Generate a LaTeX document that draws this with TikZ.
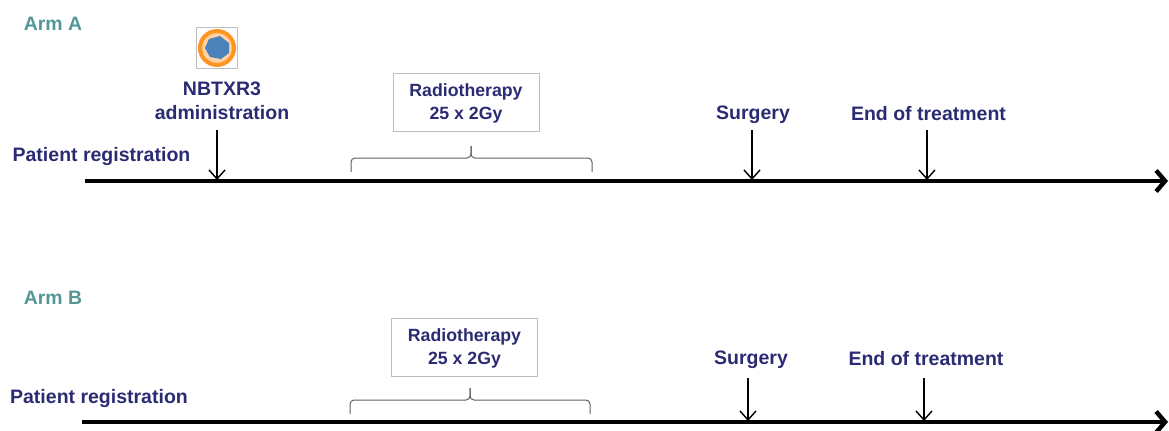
\documentclass[tikz,border=0pt]{standalone}
\usepackage{fontspec}
\setmainfont{Liberation Sans}
\usetikzlibrary{arrows.meta}
\definecolor{armteal}{RGB}{84,150,150}
\definecolor{labelblue}{RGB}{43,43,115}
\definecolor{boxgray}{RGB}{190,190,190}
\definecolor{bracegray}{RGB}{95,95,95}
\definecolor{coreblue}{RGB}{75,130,185}
\tikzset{
	armlabel/.style={text=armteal, font=\fontsize{9.7}{11}\selectfont\bfseries, inner sep=0pt},
	steplabel/.style={text=labelblue, font=\fontsize{9.75}{12}\selectfont\bfseries, align=center, inner sep=0pt, minimum height=17pt, text depth=0pt},
	rtbox/.style={draw=boxgray, line width=0.5pt, text=labelblue, align=center, inner sep=0pt, font=\fontsize{8.85}{11.5}\selectfont\bfseries, minimum width=73pt, minimum height=29pt, text depth=0pt},
	timeline/.style={line width=2pt, -{Straight Barb[length=4.5pt, width=10.5pt, line width=2.2pt]}},
	steparrow/.style={line width=0.7pt, -{Straight Barb[length=4.5pt, width=8pt, line width=0.7pt]}},
	bracket/.style={draw=bracegray, line width=0.5pt, rounded corners=2pt},
}
\begin{document}
\begin{tikzpicture}[x=0.5pt, y=-0.5pt]
	\useasboundingbox (0,0) rectangle (1169,430);
	% Arm A
	\node[armlabel] (armA) at (53,24) {Arm A};
	\node[steplabel] (regA) at (101.5,154) {Patient registration};
	\coordinate (startA) at (85,181);
	\coordinate (endA) at (1168,181);
	\draw[timeline] (startA) -- (endA);
	% icon
	\node[draw=boxgray, line width=0.5pt, minimum size=20.5pt, inner sep=0pt] (icon) at (217,48) {};
	\shade[inner color=orange!70!yellow, outer color=orange!85!white] (icon.center) circle (9.5pt);
	\fill[orange!35] (icon.center) circle (7.4pt);
	\fill[coreblue] (229,43) -- (220,36) -- (209,39) -- (205,48) -- (210,57) -- (221,59) -- (229,53) -- cycle;
	\node[steplabel, minimum height=29pt] (agentA) at (222,101) {NBTXR3\\administration};
	\coordinate (tipAgentA) at (217,180);
	\draw[steparrow] (agentA.south -| tipAgentA) -- (tipAgentA);
	\node[rtbox] (rtA) at (466,102) {Radiotherapy\\25 x 2Gy};
	\draw[bracket] (351,172) -- (351,158) -- (471,158) -- (471,146);
	\draw[bracket] (471,146) -- (471,158) -- (592,158) -- (592,172);
	\node[steplabel] (surgeryA) at (753,113) {Surgery};
	\coordinate (tipSurgeryA) at (752,180);
	\draw[steparrow] (surgeryA.south -| tipSurgeryA) -- (tipSurgeryA);
	\node[steplabel] (stopA) at (928.5,113) {End of treatment};
	\coordinate (tipStopA) at (927,180);
	\draw[steparrow] (stopA.south -| tipStopA) -- (tipStopA);
	% Arm B
	\node[armlabel] (armB) at (53,298) {Arm B};
	\node[steplabel] (regB) at (99,396) {Patient registration};
	\coordinate (startB) at (82,422);
	\coordinate (endB) at (1168,422);
	\draw[timeline] (startB) -- (endB);
	\node[rtbox] (rtB) at (464.5,347) {Radiotherapy\\25 x 2Gy};
	\draw[bracket] (350,414) -- (350,400) -- (470,400) -- (470,388);
	\draw[bracket] (470,388) -- (470,400) -- (590,400) -- (590,414);
	\node[steplabel] (surgeryB) at (751,358) {Surgery};
	\coordinate (tipSurgeryB) at (748,421);
	\draw[steparrow, shorten <=1.5pt] (surgeryB.south -| tipSurgeryB) -- (tipSurgeryB);
	\node[steplabel] (stopB) at (926,358) {End of treatment};
	\coordinate (tipStopB) at (924,421);
	\draw[steparrow, shorten <=1.5pt] (stopB.south -| tipStopB) -- (tipStopB);
\end{tikzpicture}
\end{document}
